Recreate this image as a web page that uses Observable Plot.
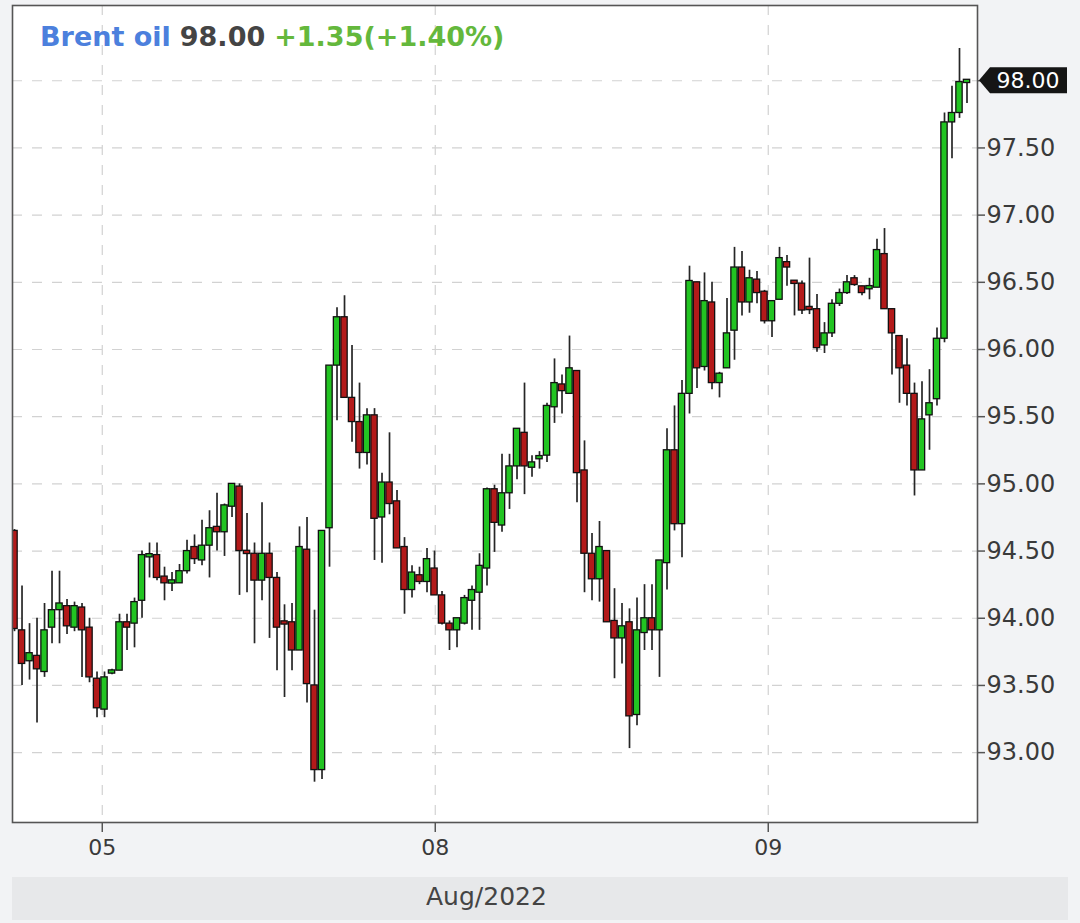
<!DOCTYPE html>
<html><head><meta charset="utf-8">
<script src="https://cdn.jsdelivr.net/npm/d3@7"></script>
<script src="https://cdn.jsdelivr.net/npm/@observablehq/plot@0.6"></script>
<style>
html,body{margin:0;padding:0;background:#f2f3f5;}
#wrap{position:relative;width:1080px;height:923px;overflow:hidden;}
#chart{position:absolute;left:0;top:0;}
#band{position:absolute;left:12px;top:877px;width:1056px;height:43px;background:#e7e8ea;}
#band span{position:absolute;left:414px;top:5px;font:25px "DejaVu Sans";color:#444;}
</style></head><body>
<div id="wrap"><div id="chart"></div><div id="band"><span id="month"></span></div></div>
<script>
const opens  = [94.65,93.91,93.68,93.72,93.60,93.93,94.06,94.09,93.93,94.08,93.93,93.55,93.32,93.59,93.61,93.97,93.96,94.13,94.46,94.47,94.31,94.26,94.26,94.35,94.53,94.43,94.54,94.68,94.64,94.83,94.98,94.50,94.48,94.28,94.48,94.30,93.97,93.97,93.76,94.51,93.50,92.87,94.67,95.88,96.24,95.64,95.46,95.23,95.51,94.75,95.01,94.87,94.53,94.21,94.32,94.27,94.37,94.17,93.96,93.91,93.96,94.13,94.19,94.37,94.96,94.69,94.93,95.13,95.38,95.12,95.19,95.21,95.57,95.74,95.67,95.84,95.10,94.48,94.29,94.50,93.98,93.85,93.97,93.28,93.89,94.00,93.91,94.41,95.25,94.70,95.67,96.50,95.87,96.35,95.75,95.86,96.14,96.61,96.35,96.52,96.43,96.21,96.37,96.65,96.51,96.49,96.31,96.30,96.03,96.12,96.34,96.42,96.53,96.47,96.45,96.46,96.71,96.30,96.10,95.88,95.67,95.10,95.51,95.63,96.08,97.69,97.76,97.99];
const highs  = [94.66,94.24,93.96,94.00,94.11,94.35,94.35,94.14,94.12,94.11,94.00,93.60,93.60,93.62,94.03,94.03,94.15,94.50,94.56,94.56,94.38,94.34,94.40,94.58,94.62,94.73,94.80,94.93,94.85,95.00,95.00,94.78,94.56,94.86,94.56,94.34,94.10,94.11,94.68,94.75,94.06,94.65,95.88,96.31,96.40,96.03,95.75,95.56,95.56,95.08,95.38,94.95,94.60,94.39,94.38,94.52,94.50,94.20,93.98,94.00,94.17,94.24,94.48,94.97,94.99,95.22,95.22,95.41,95.75,95.21,95.24,95.60,95.93,95.81,96.10,95.84,95.32,94.63,94.72,94.50,94.22,94.11,94.07,94.15,94.25,94.25,94.43,95.41,95.58,95.77,96.62,96.50,96.57,96.50,95.83,96.38,96.76,96.73,96.59,96.58,96.44,96.36,96.76,96.70,96.51,96.51,96.68,96.41,96.20,96.37,96.45,96.55,96.55,96.47,96.53,96.82,96.90,96.30,96.10,96.08,95.75,95.76,95.85,96.16,97.76,97.96,98.24,98.00];
const lows   = [93.90,93.50,93.54,93.22,93.56,93.81,93.81,93.88,93.90,93.56,93.52,93.26,93.26,93.58,93.61,93.76,93.78,94.00,94.30,94.28,94.13,94.20,94.26,94.33,94.40,94.39,94.30,94.50,94.46,94.75,94.17,94.19,93.81,94.13,93.85,93.61,93.41,93.61,93.76,93.37,92.78,92.80,94.38,95.47,95.64,95.31,95.11,95.14,94.43,94.41,94.77,94.52,94.03,94.15,94.25,94.19,94.17,93.95,93.76,93.78,93.95,93.91,93.91,94.24,94.49,94.64,94.81,95.03,94.92,95.05,95.11,95.16,95.45,95.52,95.67,94.86,94.19,94.13,94.12,93.97,93.55,93.66,93.03,93.20,93.76,93.76,93.56,94.21,94.65,94.45,95.52,95.71,95.84,95.70,95.64,95.86,95.92,96.25,96.27,96.34,96.19,96.09,96.37,96.47,96.25,96.26,96.26,95.98,95.97,96.09,96.32,96.41,96.47,96.40,96.37,96.46,96.30,95.81,95.60,95.58,94.91,95.10,95.25,95.58,96.05,97.42,97.72,97.83];
const closes = [93.92,93.66,93.74,93.62,93.91,94.06,94.11,93.94,94.09,93.91,93.56,93.33,93.56,93.61,93.97,93.93,94.12,94.47,94.47,94.30,94.26,94.28,94.35,94.50,94.44,94.54,94.67,94.64,94.84,95.00,94.50,94.48,94.28,94.48,94.30,93.93,93.96,93.76,94.53,93.51,92.87,94.65,95.88,96.24,95.64,95.46,95.23,95.51,94.74,95.01,94.85,94.52,94.21,94.34,94.27,94.44,94.17,93.96,93.91,94.00,94.15,94.21,94.39,94.96,94.71,94.93,95.13,95.41,95.13,95.16,95.20,95.58,95.75,95.69,95.86,95.08,94.48,94.29,94.53,93.97,93.85,93.94,93.27,93.91,94.00,93.91,94.43,95.25,94.70,95.67,96.51,95.86,96.36,95.75,95.82,96.12,96.61,96.35,96.53,96.42,96.21,96.36,96.68,96.61,96.49,96.29,96.30,96.01,96.12,96.34,96.42,96.50,96.48,96.42,96.47,96.74,96.30,96.12,95.86,95.67,95.10,95.48,95.60,96.08,97.69,97.76,97.99,98.00];

const yTicks = [93, 93.5, 94, 94.5, 95, 95.5, 96, 96.5, 97, 97.5, 98];
const dayTickPos = [11.7, 56.1, 100.5];
const dayTickLabels = ["05", "08", "09"];
const monthLabel = "Aug/2022";
const titleName = "Brent oil";
const titleLast = "98.00";
const titleChange = "+1.35(+1.40%)";

const data = opens.map((o, i) => ({i, open: o, high: highs[i], low: lows[i], close: closes[i]}));
const last = closes[closes.length - 1];
const bw = 0.42;
const minH = 0.012;
const bodyLo = d => { const lo = Math.min(d.open, d.close), hi = Math.max(d.open, d.close); return hi - lo < 2*minH ? (lo+hi)/2 - minH : lo; };
const bodyHi = d => { const lo = Math.min(d.open, d.close), hi = Math.max(d.open, d.close); return hi - lo < 2*minH ? (lo+hi)/2 + minH : hi; };

const plot = Plot.plot({
  width: 1080, height: 870,
  marginTop: 5, marginBottom: 48, marginLeft: 12, marginRight: 103,
  style: {background: "transparent", fontFamily: "DejaVu Sans", color: "#3a3a3a"},
  x: {type: "linear", domain: [-0.27, 128.4]},
  y: {domain: [92.48, 98.56]},
  marks: [
    Plot.frame({fill: "white"}),
    Plot.gridY(yTicks, {stroke: "#d2d2d2", strokeOpacity: 1, strokeDasharray: "10,10", strokeWidth: 1.2}),
    Plot.gridX(dayTickPos, {stroke: "#d2d2d2", strokeOpacity: 1, strokeDasharray: "10,10", strokeWidth: 1.2}),
    Plot.ruleX(data, {x: "i", y1: "low", y2: "high", stroke: "#262626", strokeWidth: 1.7, clip: true}),
    Plot.rect(data, {x1: d => d.i - bw, x2: d => d.i + bw, y1: bodyLo, y2: bodyHi,
      fill: d => d.close >= d.open ? "#22c422" : "#b31a1a", stroke: "#111", strokeWidth: 1.3, clip: true}),
    Plot.frame({stroke: "#555", strokeWidth: 1.6}),
    Plot.axisY(yTicks, {anchor: "right", tickFormat: d => d === last ? "" : d.toFixed(2), tickSize: 7, tickPadding: 2, fontSize: 24, stroke: "#555", strokeWidth: 1.5, label: null}),
    Plot.axisX(dayTickPos, {anchor: "bottom", tickFormat: d => dayTickLabels[dayTickPos.indexOf(d)], tickSize: 10, tickPadding: 7, fontSize: 22, stroke: "#555", strokeWidth: 1.5, label: null})
  ]
});
document.getElementById("chart").appendChild(plot);
document.getElementById("month").textContent = monthLabel;

const svg = d3.select(plot);
const ys = plot.scale("y");
const y0 = ys.apply(last);
const g = svg.append("g");
g.append("path")
  .attr("d", `M979,${y0} L990,${y0-13} L1067,${y0-13} L1067,${y0+13} L990,${y0+13} Z`)
  .attr("fill", "#151515");
g.append("text").attr("x", 1028).attr("y", y0).attr("dy", "0.36em")
  .attr("text-anchor", "middle").attr("fill", "white")
  .style("font", "22px 'DejaVu Sans'").text(last.toFixed(2));

const t = svg.append("text").attr("x", 40).attr("y", 46)
  .attr("text-anchor", "start")
  .style("font", "bold 27px 'DejaVu Sans'");
t.append("tspan").attr("fill", "#4c80dd").text(titleName);
t.append("tspan").attr("fill", "#444").attr("dx", 9).text(titleLast);
t.append("tspan").attr("fill", "#64b83c").attr("dx", 9).text(titleChange);
</script>
</body></html>
